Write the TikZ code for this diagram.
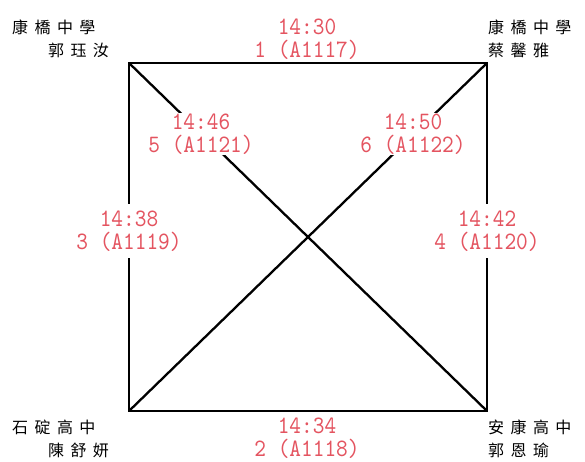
\documentclass[tikz,border=0pt]{standalone}
\usepackage{fontspec}
\newfontfamily\cjk{Noto Sans CJK TC}[LetterSpace=40]
\newfontfamily\timefont{lmmono10-regular}[Extension=.otf, FakeStretch=0.89]
\definecolor{timered}{RGB}{228,84,96}
\tikzset{
  school/.style={font=\cjk\fontsize{16}{23}\selectfont, align=left, inner sep=0pt},
  game/.style={font=\timefont\fontsize{25}{23}\selectfont, text=timered, align=center, fill=white, inner xsep=5pt, inner ysep=1pt},
  link/.style={line width=2.3pt}
}
\begin{document}
\begin{tikzpicture}[x=1pt,y=-1pt]
\useasboundingbox (0,0) rectangle (585,461);
\coordinate (A) at (129,63);
\coordinate (B) at (487,63);
\coordinate (C) at (129,411);
\coordinate (D) at (487,411);

\draw[link] (A) -- (B) -- (D) -- (C) -- cycle;
\draw[link] (A) -- (D);
\draw[link] (C) -- (B);

\node (a) [school, anchor=north west] at (12,20) {康橋中學\\\hspace{36pt}郭珏汝};
\node (b) [school, anchor=north west] at (488,20) {康橋中學\\蔡馨雅};
\node (c) [school, anchor=north west] at (12,420) {石碇高中\\\hspace{36pt}陳舒妍};
\node (d) [school, anchor=north west] at (488,420) {安康高中\\郭恩瑜};

\node (g1) [game, fill=none] at (307,39) {14:30\\1 (A1117)};
\node (g2) [game] at (307,438) {14:34\\2 (A1118)};
\node (g3) [game, inner ysep=7pt] at (129,231) {14:38\\3 (A1119)};
\node (g4) [game, inner ysep=7pt] at (487,231) {14:42\\4 (A1120)};
\node (g5) [game] at (201,134) {14:46\\5 (A1121)};
\node (g6) [game] at (413,134) {14:50\\6 (A1122)};
\end{tikzpicture}
\end{document}
